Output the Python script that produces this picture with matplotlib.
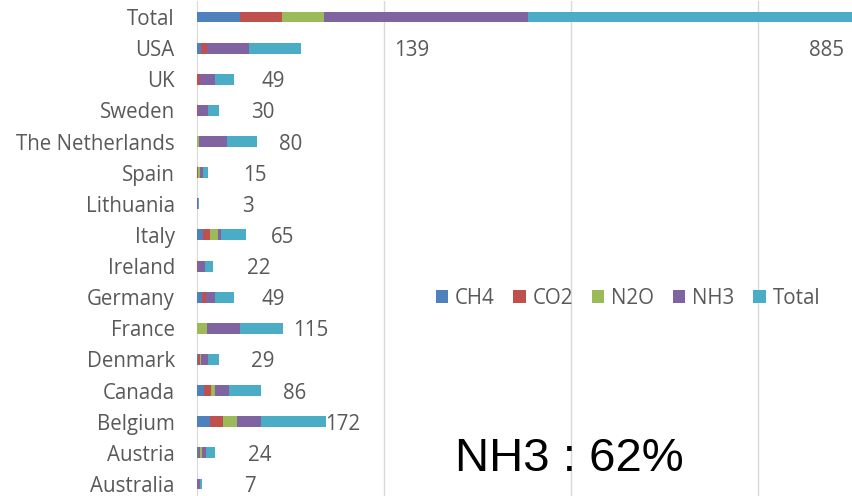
import matplotlib
matplotlib.use("Agg")
import matplotlib.pyplot as plt
from matplotlib.patches import Patch

# Emission categories, top row first
countries = ["Total", "USA", "UK", "Sweden", "The Netherlands", "Spain", "Lithuania",
             "Italy", "Ireland", "Germany", "France", "Denmark", "Canada", "Belgium",
             "Austria", "Australia"]
ch4 = [115, 12, 1, 1, 1, 1, 0, 17, 1, 13, 0, 2, 18, 36, 6, 1]
co2 = [112, 15, 6, 1, 0, 1, 0, 17, 1, 10, 0, 6, 20, 34, 2, 0]
n2o = [113, 0, 1, 0, 5, 7, 1, 21, 0, 2, 28, 2, 10, 38, 6, 0]
nh3 = [545, 112, 41, 28, 74, 6, 2, 10, 20, 24, 87, 19, 38, 64, 10, 6]
total = [885, 139, 49, 30, 80, 15, 3, 65, 22, 49, 115, 29, 86, 172, 24, 7]
series_names = ["CH4", "CO2", "N2O", "NH3", "Total"]
colors = ["#4F81BD", "#C0504D", "#9BBB59", "#8064A2", "#4BACC6"]
annotation = "NH3 : 62%"

FONT = "Open Sans"
FS = 14.8
GREY = "#595959"

W, H = 852, 496
fig = plt.figure(figsize=(W / 100, H / 100), dpi=100)
fig.patch.set_facecolor("white")

# plot area: left edge at 197 px, runs past the right edge of the figure
left_px, top_px, row_px = 197, 1.45, 31.13
n = len(countries)
ax_h = row_px * n
ax = fig.add_axes([left_px / W, (H - top_px - ax_h) / H, (W - left_px) / W, ax_h / H])
xmax = (W - left_px) / 0.374
ax.set_xlim(0, xmax)
ax.set_ylim(-0.5, n - 0.5)

ypos = [n - 1 - i for i in range(n)]
data = [ch4, co2, n2o, nh3, total]
left = [0.0] * n
for vals, name, c in zip(data, series_names, colors):
    ax.barh(ypos, vals, left=left, height=0.35, color=c, label=name, zorder=3)
    left = [l + v for l, v in zip(left, vals)]

# value labels; the two largest ones sit on the USA row, further right
row_of = dict(zip(countries, ypos))
manual = {"USA": (575, row_of["USA"]), "Total": (1682, row_of["USA"])}
for y, name, tot in zip(ypos, countries, total):
    x, yy = manual.get(name, (1.5 * tot + 131, y))
    ax.text(x, yy, str(tot), ha="center", va="center_baseline", fontsize=FS,
            family=FONT, color=GREY, zorder=4)

ax.set_yticks(ypos)
ax.set_yticklabels(countries, family=FONT, fontsize=FS, color=GREY)
ax.tick_params(axis="y", length=0, pad=16)
ax.set_xticks([500, 1000, 1500])
ax.tick_params(axis="x", length=0, labelbottom=False)
ax.grid(axis="x", color="#D9D9D9", linewidth=1, zorder=0)
for s in ["top", "right", "bottom"]:
    ax.spines[s].set_visible(False)
ax.spines["left"].set_color("#D9D9D9")
ax.spines["left"].set_zorder(2)

handles = [Patch(facecolor=c, edgecolor="none", label=nm) for c, nm in zip(colors, series_names)]
leg = fig.legend(handles=handles, loc="center", bbox_to_anchor=(628 / W, 1 - 298 / H),
                 ncol=5, frameon=False, handlelength=0.6, handleheight=0.6,
                 handletextpad=0.35, columnspacing=0.9,
                 prop={"family": FONT, "size": FS})
for t in leg.get_texts():
    t.set_color(GREY)

fig.text(569 / W, 1 - 459 / H, annotation, ha="center", va="center",
         fontsize=34, family="Liberation Sans", color="black")

fig.savefig("out.png", dpi=100)
